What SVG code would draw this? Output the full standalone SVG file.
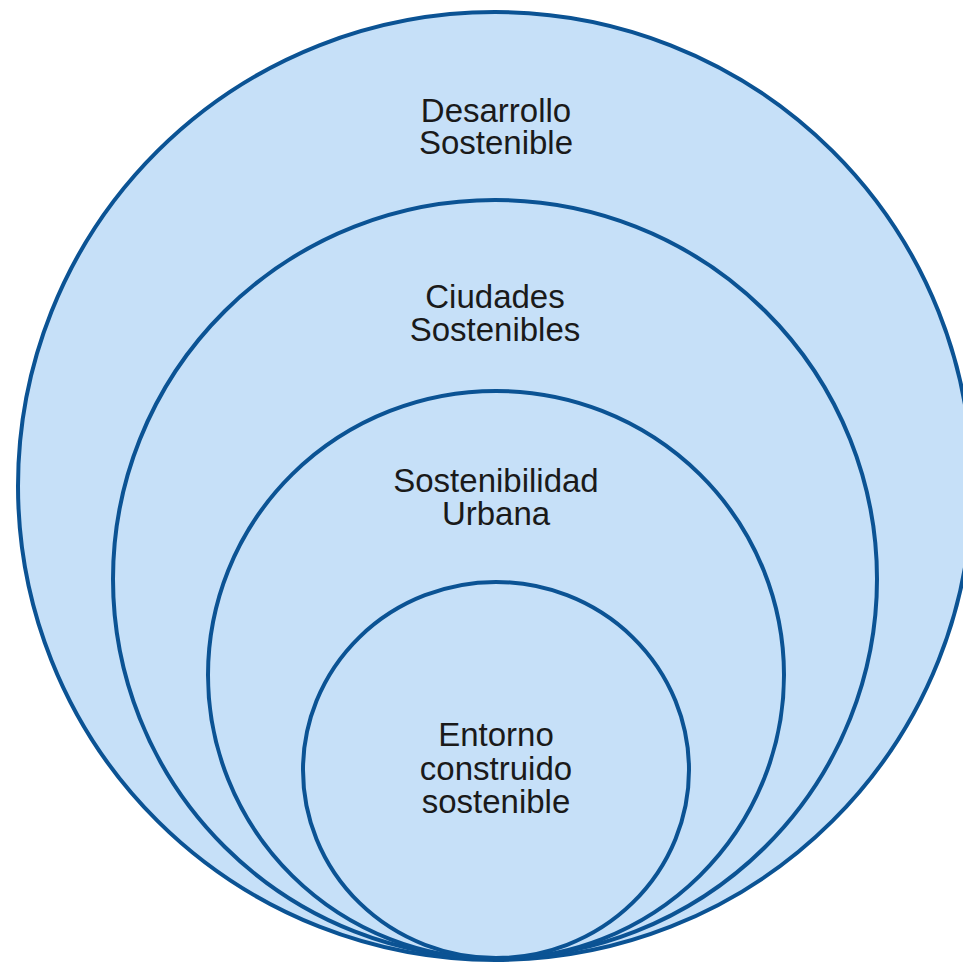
<svg xmlns="http://www.w3.org/2000/svg" width="963" height="968" viewBox="0 0 963 968">
<style>
.c{fill:#c6e0f8;stroke:#0b5394;stroke-width:4}
.t{font-family:"Liberation Sans",Arial,sans-serif;font-size:33px;fill:#1a1a1a;text-anchor:middle}
</style>
<rect width="963" height="968" fill="#ffffff"/>
<g id="desarrollo">
<ellipse class="c" cx="495" cy="486" rx="477" ry="474"/>
<text class="t" x="496" y="122"><tspan x="496">Desarrollo</tspan><tspan x="496" dy="32">Sostenible</tspan></text>
</g>
<g id="ciudades">
<ellipse class="c" cx="495" cy="579" rx="382" ry="379"/>
<text class="t" x="495" y="308"><tspan x="495">Ciudades</tspan><tspan x="495" dy="33">Sostenibles</tspan></text>
</g>
<g id="urbana">
<ellipse class="c" cx="496" cy="675" rx="288" ry="284"/>
<text class="t" x="496" y="492"><tspan x="496">Sostenibilidad</tspan><tspan x="496" dy="33">Urbana</tspan></text>
</g>
<g id="entorno">
<ellipse class="c" cx="496" cy="770" rx="193" ry="188"/>
<text class="t" x="496" y="746"><tspan x="496">Entorno</tspan><tspan x="496" dy="34">construido</tspan><tspan x="496" dy="33">sostenible</tspan></text>
</g>
<g id="connectors"/>
</svg>
